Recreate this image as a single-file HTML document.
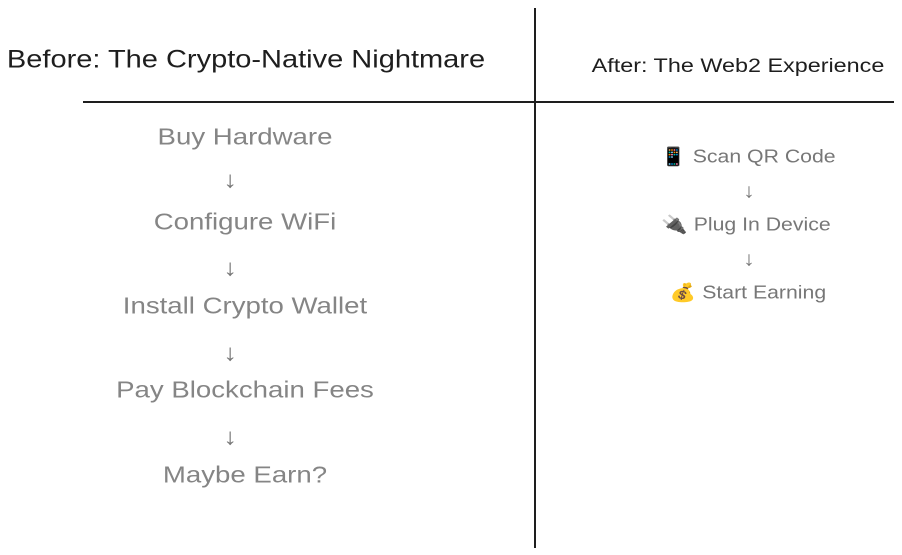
<!DOCTYPE html>
<html><head><meta charset="utf-8"><style>
html,body{margin:0;padding:0;background:#fff;}
body{width:902px;height:555px;position:relative;overflow:hidden;font-family:"Liberation Sans","DejaVu Sans",sans-serif;}
.t{position:absolute;white-space:nowrap;transform:translate(-50%,-50%);}
.l{font-size:23px;color:#858585;transform:translate(-50%,-50%) scaleX(1.2);}
.r{font-size:18px;color:#777;transform:translate(-50%,-50%) scaleX(1.18);}
.a{color:#777;}
</style></head><body>
<div style="position:absolute;left:534px;top:8px;width:2px;height:540px;background:#1e1e1e"></div>
<div style="position:absolute;left:83px;top:101px;width:811px;height:2px;background:#1e1e1e"></div>
<div class="t" style="left:246px;top:60px;font-size:25px;color:#1e1e1e;transform:translate(-50%,-50%) scaleX(1.16)">Before: The Crypto-Native Nightmare</div>
<div class="t" style="left:738px;top:67px;font-size:19px;color:#1e1e1e;transform:translate(-50%,-50%) scaleX(1.23)">After: The Web2 Experience</div>

<div class="t l" style="left:245px;top:137px">Buy Hardware</div>
<div class="t l a" style="left:230px;top:180px">↓</div>
<div class="t l" style="left:245px;top:222px">Configure WiFi</div>
<div class="t l a" style="left:230px;top:268px">↓</div>
<div class="t l" style="left:245px;top:306px">Install Crypto Wallet</div>
<div class="t l a" style="left:230px;top:353px">↓</div>
<div class="t l" style="left:245px;top:390px">Pay Blockchain Fees</div>
<div class="t l a" style="left:230px;top:437px">↓</div>
<div class="t l" style="left:245px;top:475px">Maybe Earn?</div>

<div class="t r" style="left:748px;top:157px">📱 Scan QR Code</div>
<div class="t r" style="left:749px;top:192px;font-size:20px">↓</div>
<div class="t r" style="left:746px;top:225px">🔌 Plug In Device</div>
<div class="t r" style="left:749px;top:260px;font-size:20px">↓</div>
<div class="t r" style="left:748px;top:293px">💰 Start Earning</div>
</body></html>
